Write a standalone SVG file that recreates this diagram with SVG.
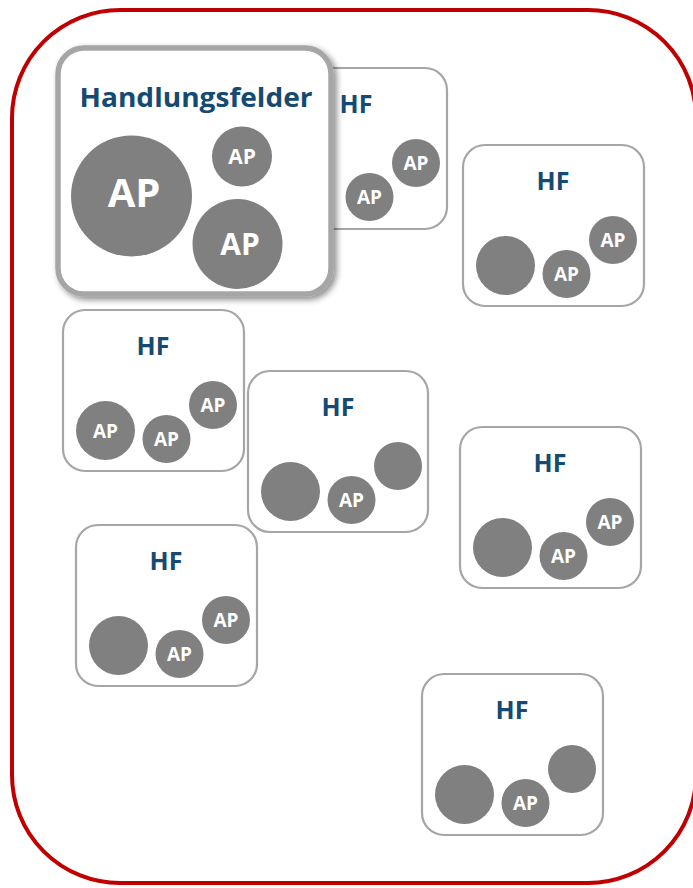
<svg xmlns="http://www.w3.org/2000/svg" xmlns:xlink="http://www.w3.org/1999/xlink" width="693" height="888" viewBox="0 0 693 888">
<style>
.hf{fill:#fff;stroke:#A6A6A6;stroke-width:2.2}
.c{fill:#808080}
.t{font-family:"Open Sans","Liberation Sans",sans-serif;font-weight:bold;text-anchor:middle}
.ap{fill:#fff;font-size:19px}
.ht{fill:#154A72;font-size:25px}
</style>
<defs>
<filter id="sh" x="-10%" y="-10%" width="130%" height="130%">
<feDropShadow dx="3" dy="3" stdDeviation="3" flood-color="#000" flood-opacity="0.45"/>
</filter>
</defs>
<rect x="12" y="10" width="684" height="873" rx="108" ry="108" fill="#fff" stroke="#C00000" stroke-width="4"/>

<g id="hf1" transform="translate(266,68)">
<rect class="hf" x="0" y="0" width="181" height="161" rx="22"/>
<text class="t ht" x="90" y="45">HF</text>
<circle class="c" cx="103.5" cy="129" r="24"/><text class="t ap" x="103.5" y="136">AP</text>
<circle class="c" cx="150" cy="95" r="24"/><text class="t ap" x="150" y="102">AP</text>
</g>

<g id="main">
<rect x="58" y="48" width="273" height="246" rx="26" fill="#fff" stroke="#A6A6A6" stroke-width="5.5" filter="url(#sh)"/>
<text class="t" x="196" y="107" fill="#154A72" font-size="27" textLength="233" lengthAdjust="spacingAndGlyphs">Handlungsfelder</text>
<circle class="c" cx="131.5" cy="196" r="60.5"/><text class="t" x="134" y="207" fill="#fff" font-size="40">AP</text>
<circle class="c" cx="242" cy="156.5" r="30"/><text class="t" x="242" y="163.5" fill="#fff" font-size="21">AP</text>
<circle class="c" cx="237.5" cy="244" r="45"/><text class="t" x="240" y="255" fill="#fff" font-size="30">AP</text>
</g>

<g id="hf2" transform="translate(463,145)">
<rect class="hf" x="0" y="0" width="181" height="161" rx="22"/>
<text class="t ht" x="90" y="45">HF</text>
<circle class="c" cx="42.5" cy="120.5" r="29.5"/>
<circle class="c" cx="103.5" cy="129" r="24"/><text class="t ap" x="103.5" y="136">AP</text>
<circle class="c" cx="150" cy="95" r="24"/><text class="t ap" x="150" y="102">AP</text>
</g>

<g id="hf3" transform="translate(63,310)">
<rect class="hf" x="0" y="0" width="181" height="161" rx="22"/>
<text class="t ht" x="90" y="45">HF</text>
<circle class="c" cx="42.5" cy="120.5" r="29.5"/><text class="t ap" x="42.5" y="127.5" font-size="20">AP</text>
<circle class="c" cx="103.5" cy="129" r="24"/><text class="t ap" x="103.5" y="136">AP</text>
<circle class="c" cx="150" cy="95" r="24"/><text class="t ap" x="150" y="102">AP</text>
</g>

<g id="hf4" transform="translate(248,371)">
<rect class="hf" x="0" y="0" width="180" height="161" rx="22"/>
<text class="t ht" x="90" y="45">HF</text>
<circle class="c" cx="42.5" cy="120.5" r="29.5"/>
<circle class="c" cx="103.5" cy="129" r="24"/><text class="t ap" x="103.5" y="136">AP</text>
<circle class="c" cx="150" cy="95" r="24"/>
</g>

<g id="hf5" transform="translate(460,427)">
<rect class="hf" x="0" y="0" width="181" height="161" rx="22"/>
<text class="t ht" x="90" y="45">HF</text>
<circle class="c" cx="42.5" cy="120.5" r="29.5"/>
<circle class="c" cx="103.5" cy="129" r="24"/><text class="t ap" x="103.5" y="136">AP</text>
<circle class="c" cx="150" cy="95" r="24"/><text class="t ap" x="150" y="102">AP</text>
</g>

<g id="hf6" transform="translate(76,525)">
<rect class="hf" x="0" y="0" width="181" height="161" rx="22"/>
<text class="t ht" x="90" y="45">HF</text>
<circle class="c" cx="42.5" cy="120.5" r="29.5"/>
<circle class="c" cx="103.5" cy="129" r="24"/><text class="t ap" x="103.5" y="136">AP</text>
<circle class="c" cx="150" cy="95" r="24"/><text class="t ap" x="150" y="102">AP</text>
</g>

<g id="hf7" transform="translate(422,674)">
<rect class="hf" x="0" y="0" width="181" height="161" rx="22"/>
<text class="t ht" x="90" y="45">HF</text>
<circle class="c" cx="42.5" cy="120.5" r="29.5"/>
<circle class="c" cx="103.5" cy="129" r="24"/><text class="t ap" x="103.5" y="136">AP</text>
<circle class="c" cx="150" cy="95" r="24"/>
</g>

<g id="connectors"></g>
</svg>
